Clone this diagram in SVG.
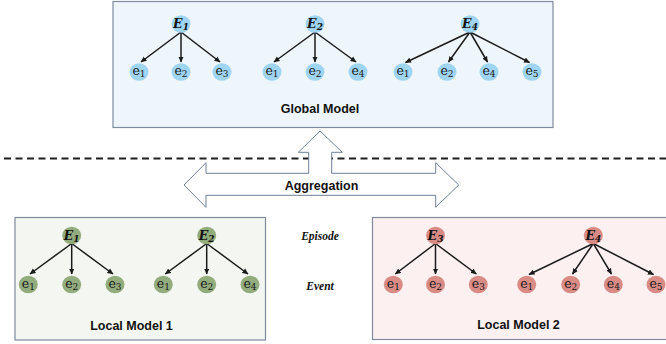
<svg xmlns="http://www.w3.org/2000/svg" width="666" height="344" viewBox="0 0 666 344">
<defs>
<marker id="ah" markerWidth="6" markerHeight="6" refX="5.5" refY="3" orient="auto" markerUnits="userSpaceOnUse">
<path d="M0,0.3 L6,3 L0,5.7 z" fill="#1a1a1a"/>
</marker>
<style>
.box{stroke:#7f8c9e;stroke-width:1.2}
.gbox{fill:#eef6fc}
.lbox1{fill:#f4f7f1}
.lbox2{fill:#fcf0f1}
.nb{fill:#9fd4f2}
.ng{fill:#93ac7d}
.np{fill:#d98b85}
.E{font-family:"DejaVu Serif","Liberation Serif",serif;font-weight:bold;font-style:italic;font-size:12.5px;fill:#111;text-anchor:middle}
.e{font-family:"DejaVu Serif","Liberation Serif",serif;font-size:12.5px;fill:#1a1a1a;text-anchor:middle}
.sub{font-size:9px}
.title{font-family:"Liberation Sans",Arial,sans-serif;font-weight:bold;font-size:12.5px;fill:#111;text-anchor:middle}
.side{font-family:"Liberation Serif","DejaVu Serif",serif;font-weight:bold;font-style:italic;font-size:11.5px;fill:#111;text-anchor:middle}
.conn line{stroke:#1a1a1a;stroke-width:1.5;marker-end:url(#ah)}
</style>
</defs>

<!-- boxes -->
<g id="global-model">
<rect class="box gbox" x="113" y="1.5" width="440" height="126"/>
<text class="title" x="320" y="112.5">Global Model</text>
</g>
<g id="local-model-1">
<rect class="box lbox1" x="15" y="217.5" width="250.5" height="122.5"/>
<text class="title" x="131.5" y="329.5">Local Model 1</text>
</g>
<g id="local-model-2">
<rect class="box lbox2" x="372.5" y="217.5" width="300" height="122"/>
<text class="title" x="518.5" y="328.5">Local Model 2</text>
</g>

<!-- dashed separator -->
<line x1="4" y1="158.5" x2="666" y2="158.5" stroke="#1f1f1f" stroke-width="2" stroke-dasharray="7 4.5"/>

<!-- aggregation arrow -->
<g id="aggregation">
<polygon points="320,131 342.3,152.3 331.7,152.3 331.7,173.3 435.7,173.3 435.7,162.7 458.7,185 435.7,207.3 435.7,195.3 206,195.3 206,207.3 184,185 206,162.7 206,173.3 308.7,173.3 308.7,152.3 298.3,152.3" fill="#ffffff" stroke="#6f7f98" stroke-width="1"/>
<text class="title" x="321.5" y="189.5">Aggregation</text>
</g>

<text class="side" x="320" y="239.5">Episode</text>
<text class="side" x="320" y="290">Event</text>

<!-- connectors -->
<g id="connectors" class="conn">
<line x1="181" y1="32" x2="141" y2="62"/>
<line x1="181" y1="32" x2="181" y2="62"/>
<line x1="181" y1="32" x2="220" y2="62"/>
<line x1="315" y1="32" x2="274" y2="62"/>
<line x1="315" y1="32" x2="315" y2="62"/>
<line x1="315" y1="32" x2="356" y2="62"/>
<line x1="470" y1="32" x2="405.5" y2="62.5"/>
<line x1="470" y1="32" x2="448.5" y2="62"/>
<line x1="470" y1="32" x2="487.5" y2="62"/>
<line x1="470" y1="32" x2="529.5" y2="62.5"/>

<line x1="71.7" y1="243.5" x2="30" y2="274"/>
<line x1="71.7" y1="243.5" x2="71.7" y2="274"/>
<line x1="71.7" y1="243.5" x2="113" y2="274"/>
<line x1="206.7" y1="243.5" x2="165.3" y2="274"/>
<line x1="206.7" y1="243.5" x2="206.7" y2="274"/>
<line x1="206.7" y1="243.5" x2="248" y2="274"/>

<line x1="435.5" y1="243.5" x2="395.3" y2="274"/>
<line x1="435.5" y1="243.5" x2="435.5" y2="274"/>
<line x1="435.5" y1="243.5" x2="476.3" y2="274"/>
<line x1="593.3" y1="243.5" x2="529" y2="274.5"/>
<line x1="593.3" y1="243.5" x2="572.5" y2="274"/>
<line x1="593.3" y1="243.5" x2="611.5" y2="274"/>
<line x1="593.3" y1="243.5" x2="653.5" y2="274.5"/>
</g>

<!-- global nodes -->
<g id="g-E1"><ellipse class="nb" cx="181" cy="24" rx="9.5" ry="8.7"/><text class="E" x="181" y="28">E<tspan class="sub" dy="2">1</tspan></text></g>
<g id="g-E1-e1"><ellipse class="nb" cx="139" cy="72" rx="9.5" ry="8.8"/><text class="e" x="139" y="75">e<tspan class="sub" dy="2">1</tspan></text></g>
<g id="g-E1-e2"><ellipse class="nb" cx="181" cy="72" rx="9.5" ry="8.8"/><text class="e" x="181" y="75">e<tspan class="sub" dy="2">2</tspan></text></g>
<g id="g-E1-e3"><ellipse class="nb" cx="222" cy="72" rx="9.5" ry="8.8"/><text class="e" x="222" y="75">e<tspan class="sub" dy="2">3</tspan></text></g>

<g id="g-E2"><ellipse class="nb" cx="315" cy="24" rx="9.5" ry="8.7"/><text class="E" x="315" y="28">E<tspan class="sub" dy="2">2</tspan></text></g>
<g id="g-E2-e1"><ellipse class="nb" cx="272" cy="72" rx="9.5" ry="8.8"/><text class="e" x="272" y="75">e<tspan class="sub" dy="2">1</tspan></text></g>
<g id="g-E2-e2"><ellipse class="nb" cx="315" cy="72" rx="9.5" ry="8.8"/><text class="e" x="315" y="75">e<tspan class="sub" dy="2">2</tspan></text></g>
<g id="g-E2-e4"><ellipse class="nb" cx="358" cy="72" rx="9.5" ry="8.8"/><text class="e" x="358" y="75">e<tspan class="sub" dy="2">4</tspan></text></g>

<g id="g-E4"><ellipse class="nb" cx="470" cy="24" rx="9.5" ry="8.7"/><text class="E" x="470" y="28">E<tspan class="sub" dy="2">4</tspan></text></g>
<g id="g-E4-e1"><ellipse class="nb" cx="403" cy="72" rx="9.5" ry="8.8"/><text class="e" x="403" y="75">e<tspan class="sub" dy="2">1</tspan></text></g>
<g id="g-E4-e2"><ellipse class="nb" cx="447" cy="72" rx="9.5" ry="8.8"/><text class="e" x="447" y="75">e<tspan class="sub" dy="2">2</tspan></text></g>
<g id="g-E4-e4"><ellipse class="nb" cx="489" cy="72" rx="9.5" ry="8.8"/><text class="e" x="489" y="75">e<tspan class="sub" dy="2">4</tspan></text></g>
<g id="g-E4-e5"><ellipse class="nb" cx="532" cy="72" rx="9.5" ry="8.8"/><text class="e" x="532" y="75">e<tspan class="sub" dy="2">5</tspan></text></g>

<!-- local model 1 nodes -->
<g id="l1-E1"><ellipse class="ng" cx="71.7" cy="235.5" rx="9.5" ry="8.7"/><text class="E" x="71.7" y="239.5">E<tspan class="sub" dy="2">1</tspan></text></g>
<g id="l1-E1-e1"><ellipse class="ng" cx="28.3" cy="284.5" rx="9.5" ry="8.8"/><text class="e" x="28.3" y="287.5">e<tspan class="sub" dy="2">1</tspan></text></g>
<g id="l1-E1-e2"><ellipse class="ng" cx="71.7" cy="284.5" rx="9.5" ry="8.8"/><text class="e" x="71.7" y="287.5">e<tspan class="sub" dy="2">2</tspan></text></g>
<g id="l1-E1-e3"><ellipse class="ng" cx="115" cy="284.5" rx="9.5" ry="8.8"/><text class="e" x="115" y="287.5">e<tspan class="sub" dy="2">3</tspan></text></g>

<g id="l1-E2"><ellipse class="ng" cx="206.7" cy="235.5" rx="9.5" ry="8.7"/><text class="E" x="206.7" y="239.5">E<tspan class="sub" dy="2">2</tspan></text></g>
<g id="l1-E2-e1"><ellipse class="ng" cx="163.3" cy="284.5" rx="9.5" ry="8.8"/><text class="e" x="163.3" y="287.5">e<tspan class="sub" dy="2">1</tspan></text></g>
<g id="l1-E2-e2"><ellipse class="ng" cx="206.7" cy="284.5" rx="9.5" ry="8.8"/><text class="e" x="206.7" y="287.5">e<tspan class="sub" dy="2">2</tspan></text></g>
<g id="l1-E2-e4"><ellipse class="ng" cx="250" cy="284.5" rx="9.5" ry="8.8"/><text class="e" x="250" y="287.5">e<tspan class="sub" dy="2">4</tspan></text></g>

<!-- local model 2 nodes -->
<g id="l2-E3"><ellipse class="np" cx="435.5" cy="235.5" rx="9.5" ry="8.7"/><text class="E" x="435.5" y="239.5">E<tspan class="sub" dy="2">3</tspan></text></g>
<g id="l2-E3-e1"><ellipse class="np" cx="393.3" cy="284.5" rx="9.5" ry="8.8"/><text class="e" x="393.3" y="287.5">e<tspan class="sub" dy="2">1</tspan></text></g>
<g id="l2-E3-e2"><ellipse class="np" cx="435.5" cy="284.5" rx="9.5" ry="8.8"/><text class="e" x="435.5" y="287.5">e<tspan class="sub" dy="2">2</tspan></text></g>
<g id="l2-E3-e3"><ellipse class="np" cx="478.3" cy="284.5" rx="9.5" ry="8.8"/><text class="e" x="478.3" y="287.5">e<tspan class="sub" dy="2">3</tspan></text></g>

<g id="l2-E4"><ellipse class="np" cx="593.3" cy="235.5" rx="9.5" ry="8.7"/><text class="E" x="593.3" y="239.5">E<tspan class="sub" dy="2">4</tspan></text></g>
<g id="l2-E4-e1"><ellipse class="np" cx="526.7" cy="284.5" rx="9.5" ry="8.8"/><text class="e" x="526.7" y="287.5">e<tspan class="sub" dy="2">1</tspan></text></g>
<g id="l2-E4-e2"><ellipse class="np" cx="570.7" cy="284.5" rx="9.5" ry="8.8"/><text class="e" x="570.7" y="287.5">e<tspan class="sub" dy="2">2</tspan></text></g>
<g id="l2-E4-e4"><ellipse class="np" cx="613.3" cy="284.5" rx="9.5" ry="8.8"/><text class="e" x="613.3" y="287.5">e<tspan class="sub" dy="2">4</tspan></text></g>
<g id="l2-E4-e5"><ellipse class="np" cx="656" cy="284.5" rx="9.5" ry="8.8"/><text class="e" x="656" y="287.5">e<tspan class="sub" dy="2">5</tspan></text></g>
</svg>
